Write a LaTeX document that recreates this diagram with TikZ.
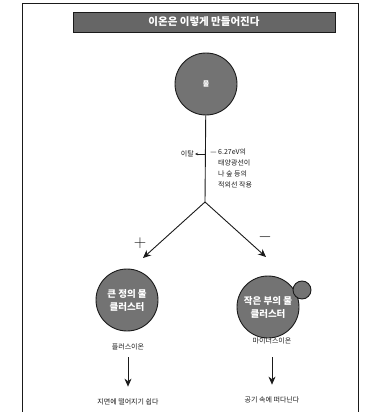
\documentclass[tikz,border=0pt]{standalone}
\usepackage{fontspec}
\setmainfont{Noto Sans CJK KR}
\usetikzlibrary{arrows.meta,positioning,calc}
\definecolor{ink}{HTML}{1A1A1A}
\definecolor{halftone}{HTML}{737373}
\definecolor{banner}{HTML}{666666}

\begin{document}
\begin{tikzpicture}[x=1pt,y=-1pt,
  drop/.style={circle, draw=ink, line width=0.9pt, fill=halftone, text=white,
    font=\fontsize{9.5}{13}\selectfont\bfseries, align=center, inner sep=0pt, minimum size=62pt},
  note/.style={font=\fontsize{7}{11}\selectfont, text=ink, inner sep=1pt},
  flow/.style={-{Stealth[length=8pt,width=7pt]}, ink, line width=0.9pt}]
  \useasboundingbox (0,0) rectangle (375,412);
  % frame
  \draw[ink, line width=0.5pt] (22,420) -- (22,3) -- (358,3) -- (358,420);
  % title
  \node[fill=banner, draw=ink, text=white, minimum width=262pt, minimum height=20pt,
    font=\fontsize{10.5}{12}\selectfont\bfseries] (title) at (204,22) {이온은 이렇게 만들어진다};
  % water
  \node[drop] (water) at (206,84) {\fontsize{7}{8}\selectfont 물};
  \coordinate (split) at (205,202);
  \coordinate (hit) at (205,154);
  \draw[ink, line width=0.9pt] (water) -- (split);
  \node[note, anchor=east] (leave) at (195,154) {이탈};
  \draw[-{Stealth[length=3pt,width=2.5pt]}, ink, line width=0.5pt] (hit) -- (leave);
  \node[note, anchor=north west, align=left] (cause) at (217,148)
    {\llap{— }6.27eV의\\태양광선이\\나 숲 등의\\적외선 작용};
  % branches
  \coordinate (ltip) at (143,258);
  \coordinate (rtip) at (266,257);
  \draw[flow] (split) -- (ltip);
  \draw[flow] (split) -- (rtip);
  \node[ink, font=\fontsize{16}{16}\selectfont] (plussign) at (140,243) {$+$};
  \node[ink, font=\fontsize{16}{16}\selectfont] (minussign) at (265,237) {$-$};
  % clusters
  \node[drop] (plus) at (127,300) {큰 정의 물\\클러스터};
  \node[drop] (minus) at (268,307) {작은 부의 물\\클러스터};
  \node[drop, minimum size=18pt] (bead) at (302,290) {};
  % ions
  \node[note] (pluslabel) at (128,347) {플러스이온};
  \node[note] (minuslabel) at (272,341) {마이너스이온};
  \node[note] (fall) at (128,402) {지면에 떨어지기 쉽다};
  \node[note] (float) at (272,400) {공기 속에 떠다닌다};
  \draw[flow, line width=0.7pt, shorten <=6pt, shorten >=11pt] (pluslabel) -- (fall);
  \draw[flow, line width=0.7pt, shorten <=12pt, shorten >=11pt] (minuslabel) -- (float);
\end{tikzpicture}
\end{document}
